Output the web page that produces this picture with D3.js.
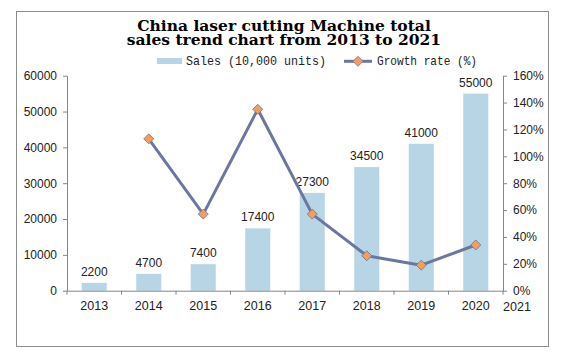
<!DOCTYPE html>
<html>
<head>
<meta charset="utf-8">
<script src="https://cdn.jsdelivr.net/npm/d3@7/dist/d3.min.js"></script>
<style>
  body { margin: 0; background: #fff; }
</style>
</head>
<body>
<div id="chart"></div>
<script>
const titleLines = ['China laser cutting Machine total', 'sales trend chart from 2013 to 2021'];
const years = ['2013', '2014', '2015', '2016', '2017', '2018', '2019', '2020'];
const lastYearLabel = '2021';
const sales = [2200, 4700, 7400, 17400, 27300, 34500, 41000, 55000];
const growth = [null, 113, 57, 135, 57, 26, 19, 34];
const salesTicks = [0, 10000, 20000, 30000, 40000, 50000, 60000];
const growthTicks = [0, 20, 40, 60, 80, 100, 120, 140, 160];
const legendLabels = ['Sales (10,000 units)', 'Growth rate (%)'];

const width = 573, height = 353;
const margin = { top: 75.7, right: 70, bottom: 62.3, left: 67 };
const barColor = '#b8d5e6';
const lineColor = '#6c77a0';
const markerColor = '#f59e5a';
const axisColor = '#868686';

const svg = d3.select('#chart')
    .append('svg')
    .attr('width', width)
    .attr('height', height);

// outer frame
svg.append('rect')
    .attr('x', 16.5).attr('y', 11.5)
    .attr('width', 532).attr('height', 335)
    .attr('fill', '#fff')
    .attr('stroke', '#8c8c8c');

// title
svg.append('text')
    .attr('x', 284)
    .attr('text-anchor', 'middle')
    .style('font-family', '"DejaVu Serif", serif')
    .style('font-weight', 'bold')
    .style('font-size', '15.5px')
    .selectAll('tspan')
    .data(titleLines)
    .enter().append('tspan')
    .attr('x', 284)
    .attr('y', (d, i) => 30.5 + i * 14.2)
    .text(d => d);

const x = d3.scaleBand()
    .domain(years)
    .range([margin.left, width - margin.right])
    .paddingInner(0.54)
    .paddingOuter(0.27);

const y = d3.scaleLinear()
    .domain([0, 60000])
    .range([height - margin.bottom, margin.top]);

const y2 = d3.scaleLinear()
    .domain([0, 160])
    .range([height - margin.bottom, margin.top]);

// bars
svg.selectAll('rect.bar')
    .data(sales)
    .enter().append('rect')
    .attr('class', 'bar')
    .attr('x', (d, i) => x(years[i]))
    .attr('y', d => y(d))
    .attr('width', x.bandwidth())
    .attr('height', d => y(0) - y(d))
    .attr('fill', barColor);

// bar labels
svg.selectAll('text.blabel')
    .data(sales)
    .enter().append('text')
    .attr('class', 'blabel')
    .attr('x', (d, i) => x(years[i]) + x.bandwidth() / 2)
    .attr('y', d => y(d) - 7)
    .attr('text-anchor', 'middle')
    .style('font-family', '"Liberation Sans", Arial, sans-serif')
    .style('font-size', '12px')
    .style('fill', '#222')
    .text(d => d);

// axes
const styleAxis = (g) => {
    g.select('.domain').attr('stroke', axisColor);
    g.selectAll('.tick line').attr('stroke', axisColor);
    g.selectAll('text')
        .style('font-family', '"Liberation Sans", Arial, sans-serif')
        .style('font-size', '12px')
        .style('fill', '#222');
};

svg.append('g')
    .attr('transform', `translate(${margin.left},0)`)
    .call(d3.axisLeft(y).tickValues(salesTicks).tickSize(4).tickSizeOuter(0).tickPadding(6)
        .tickFormat(d => String(d)))
    .call(styleAxis);

svg.append('g')
    .attr('transform', `translate(${width - margin.right},0)`)
    .call(d3.axisRight(y2).tickValues(growthTicks).tickSize(4).tickSizeOuter(0).tickPadding(6)
        .tickFormat(d => d + '%'))
    .call(styleAxis);

const xAxis = svg.append('g')
    .attr('transform', `translate(0,${y(0)})`)
    .call(d3.axisBottom(x).tickSize(0).tickSizeOuter(0).tickPadding(10))
    .call(styleAxis);
xAxis.selectAll('text').style('font-size', '12.5px');

// category boundary ticks
const bounds = d3.range(years.length + 1).map(i => margin.left + i * x.step());
svg.append('g')
    .selectAll('line')
    .data(bounds)
    .enter().append('line')
    .attr('x1', d => d).attr('x2', d => d)
    .attr('y1', y(0)).attr('y2', y(0) + 4)
    .attr('stroke', axisColor);

svg.append('text')
    .attr('x', x.range()[1] + 14)
    .attr('y', y(0) + 20)
    .attr('text-anchor', 'middle')
    .style('font-family', '"Liberation Sans", Arial, sans-serif')
    .style('font-size', '12.5px')
    .style('fill', '#222')
    .text(lastYearLabel);

// growth line
const pts = growth.map((d, i) => ({ year: years[i], value: d })).filter(d => d.value !== null);
const line = d3.line()
    .x(d => x(d.year) + x.bandwidth() / 2)
    .y(d => y2(d.value));

svg.append('path')
    .datum(pts)
    .attr('fill', 'none')
    .attr('stroke', lineColor)
    .attr('stroke-width', 3)
    .attr('stroke-linejoin', 'round')
    .attr('d', line);

const diamond = d3.symbol().type(d3.symbolSquare).size(50);
svg.selectAll('path.marker')
    .data(pts)
    .enter().append('path')
    .attr('class', 'marker')
    .attr('d', diamond)
    .attr('transform', d => `translate(${x(d.year) + x.bandwidth() / 2},${y2(d.value)}) rotate(45)`)
    .attr('fill', markerColor)
    .attr('stroke', lineColor)
    .attr('stroke-width', 0.8);

// legend
const legend = svg.append('g');
legend.append('rect')
    .attr('x', 157).attr('y', 58)
    .attr('width', 25).attr('height', 6)
    .attr('fill', barColor);
legend.append('text')
    .attr('x', 186).attr('y', 65.3)
    .attr('textLength', 140)
    .attr('lengthAdjust', 'spacingAndGlyphs')
    .style('font-family', '"Liberation Mono", monospace')
    .style('font-size', '13px')
    .style('fill', '#222')
    .text(legendLabels[0]);

legend.append('line')
    .attr('x1', 344).attr('x2', 372)
    .attr('y1', 61.3).attr('y2', 61.3)
    .attr('stroke', lineColor)
    .attr('stroke-width', 3);
legend.append('path')
    .attr('d', diamond)
    .attr('transform', 'translate(358,61.3) rotate(45)')
    .attr('fill', markerColor)
    .attr('stroke', lineColor)
    .attr('stroke-width', 0.8);
legend.append('text')
    .attr('x', 377).attr('y', 65.3)
    .attr('textLength', 100)
    .attr('lengthAdjust', 'spacingAndGlyphs')
    .style('font-family', '"Liberation Mono", monospace')
    .style('font-size', '13px')
    .style('fill', '#222')
    .text(legendLabels[1]);
</script>
</body>
</html>
